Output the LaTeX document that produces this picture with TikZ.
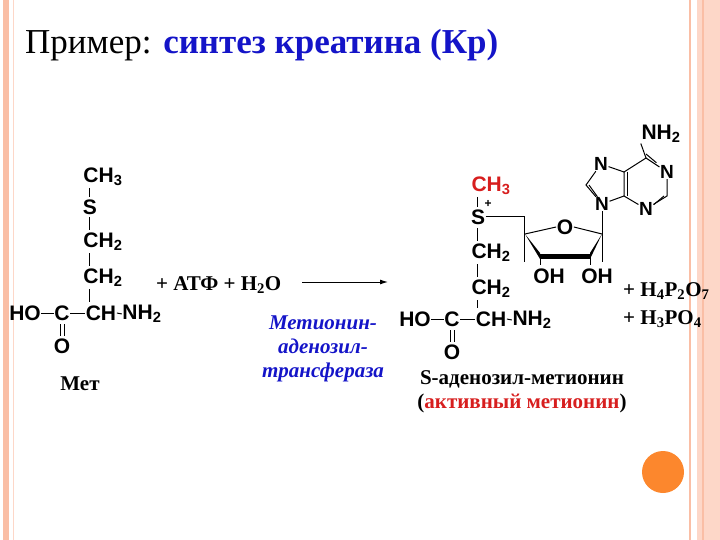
\documentclass[tikz,border=0pt]{standalone}
\usepackage{fontspec}
\setmainfont{Liberation Serif}
\newfontfamily\chem{Liberation Sans}
\usetikzlibrary{arrows.meta}
\definecolor{salmon}{RGB}{250,190,165}
\definecolor{salmonlt}{RGB}{253,215,200}
\definecolor{orng}{RGB}{252,135,45}
\definecolor{tblue}{RGB}{20,20,200}
\definecolor{ered}{RGB}{215,30,30}
\begin{document}
\begin{tikzpicture}[x=1pt,y=-1pt,
  atm/.style={font=\chem\bfseries\fontsize{21}{21}\selectfont,inner sep=0.5pt},
  tx/.style={font=\bfseries\fontsize{21}{23}\selectfont,inner sep=0pt},
  bd/.style={line width=1pt},
  N/.style={font=\chem\bfseries\fontsize{19}{19}\selectfont,inner sep=0.5pt,fill=white}]
\useasboundingbox (0,0) rectangle (720,540);
% borders
\fill[salmon] (3,0) rectangle (9,540);
\draw[salmonlt,line width=1pt] (13,0) -- (13,540);
\fill[salmonlt] (697,0) rectangle (720,540);
\draw[salmon,line width=1.5pt] (690,0) -- (690,540);
\draw[salmon,line width=2pt] (703,0) -- (703,540);
\fill[orng] (663,472) circle (21);
% title
\node[anchor=west,inner sep=0,font=\fontsize{35}{37}\selectfont] (title) at (25,45) {Пример: \textcolor{tblue}{\bfseries синтез креатина (Кр)}};
% left molecule
\node[atm] (lch3) at (103,177) {CH\textsubscript{3}};
\node[atm] (ls) at (90,207) {S};
\node[atm] (lch2a) at (103,242) {CH\textsubscript{2}};
\node[atm] (lch2b) at (103,278) {CH\textsubscript{2}};
\node[atm] (lho) at (25,313) {HO};
\node[atm] (lc) at (62,313) {C};
\node[atm] (lch) at (101,313) {CH};
\node[atm] (lnh) at (142,314) {NH\textsubscript{2}};
\node[atm] (lo) at (62,346) {O};
\draw[bd] (89,188) -- (89,197); \draw[bd] (89,217) -- (89,230);
\draw[bd] (89,253) -- (89,266); \draw[bd] (89,289) -- (89,302);
\draw[bd] (lho.east) -- (lc.west); \draw[bd] (lc.east) -- (lch.west);
\draw[bd] (lch.east) -- (lnh.west);
\draw[bd] (60,324) -- (60,336); \draw[bd] (64,324) -- (64,336);
\node[tx] (met) at (80,384) {Мет};
% reagents & arrow
\node[tx,anchor=west] (atp) at (156,285) {+ АТФ + H\textsubscript{2}O};
\coordinate (a1) at (302,282); \coordinate (a2) at (388,282);
\draw[bd,-{Latex[length=8pt,width=5pt]}] (a1) -- (a2);
\node[align=center,text=tblue,font=\bfseries\itshape\fontsize{21}{24}\selectfont] (enz) at (323,349) {Метионин-\\аденозил-\\трансфераза};
% right molecule
\node[atm,text=ered] (rch3) at (491,186) {CH\textsubscript{3}};
\node[atm] (rs) at (478,217) {S};
\node[font=\chem\bfseries\fontsize{12}{12}\selectfont,inner sep=0] (plus) at (488,204) {+};
\node[atm] (rch2a) at (491,253) {CH\textsubscript{2}};
\node[atm] (rch2b) at (491,289) {CH\textsubscript{2}};
\node[atm] (rho) at (415,319) {HO};
\node[atm] (rc) at (452,319) {C};
\node[atm] (rch) at (491,319) {CH};
\node[atm] (rnh) at (532,320) {NH\textsubscript{2}};
\node[atm] (ro) at (452,352) {O};
\draw[bd] (477,197) -- (477,207); \draw[bd] (477,228) -- (477,241);
\draw[bd] (477,264) -- (477,277); \draw[bd] (477,300) -- (477,308);
\draw[bd] (rho.east) -- (rc.west); \draw[bd] (rc.east) -- (rch.west);
\draw[bd] (rch.east) -- (rnh.west);
\draw[bd] (450,330) -- (450,342); \draw[bd] (454,330) -- (454,342);
% ribose
\coordinate (c4) at (525,234); \coordinate (c1) at (602,234);
\coordinate (c3) at (540,256); \coordinate (c2) at (590,256);
\node[atm] (rO) at (565,227) {O};
\draw[bd] (rs.east) -- (524,217) -- (524,262);
\draw[bd] (c4) -- (rO.west); \draw[bd] (rO.east) -- (c1);
\fill (c4) -- ([yshift=-3pt]c3) -- ([yshift=3pt]c3) -- cycle;
\fill (c1) -- ([yshift=-3pt]c2) -- ([yshift=3pt]c2) -- cycle;
\draw[line width=5pt] (c3) -- (c2);
\draw[bd] (c3) -- (540,265); \draw[bd] (c2) -- (590,265);
\draw[bd] (c1) -- (602,262);
\node[atm] (oh1) at (549,276) {OH};
\node[atm] (oh2) at (597,276) {OH};
% adenine
\node[N] (n9) at (602,204) {N};
\node[N] (n7) at (601,164) {N};
\node[N] (n3) at (646,209) {N};
\node[N] (n1) at (667,172) {N};
\coordinate (c8) at (586,185); \coordinate (c5) at (624,172);
\coordinate (c4a) at (624,196); \coordinate (c2a) at (667,196);
\coordinate (c6) at (646,158);
\node[atm] (nh2) at (661,134) {NH\textsubscript{2}};
\draw[bd] (c1) -- (n9.south);
\draw[bd] (n9) -- (c8) -- (n7);
\draw[bd] ([xshift=3pt]n9.north west) -- ([xshift=3pt]c8) ;
\draw[bd] (n7) -- (c5) -- (c4a) -- (n9);
\draw[bd] ([xshift=3pt]c5) -- ([xshift=3pt]c4a);
\draw[bd] (c4a) -- (n3) -- (c2a) -- (n1) -- (c6) -- (c5);
\draw[bd] ([yshift=-3pt]n3.north east) -- ([xshift=-3pt]c2a);
\draw[bd] ([xshift=-3pt,yshift=2pt]n1.north west) -- ([yshift=4pt]c6);
\draw[bd] (c6) -- (nh2.south west);
% products
\node[tx,anchor=west] (p1) at (623,291) {+ H\textsubscript{4}P\textsubscript{2}O\textsubscript{7}};
\node[tx,anchor=west] (p2) at (623,319) {+ H\textsubscript{3}PO\textsubscript{4}};
\node[tx] (sam) at (522,379) {S-аденозил-метионин};
\node[tx] (act) at (522,403) {(\textcolor{ered}{активный метионин})};
\end{tikzpicture}
\end{document}
